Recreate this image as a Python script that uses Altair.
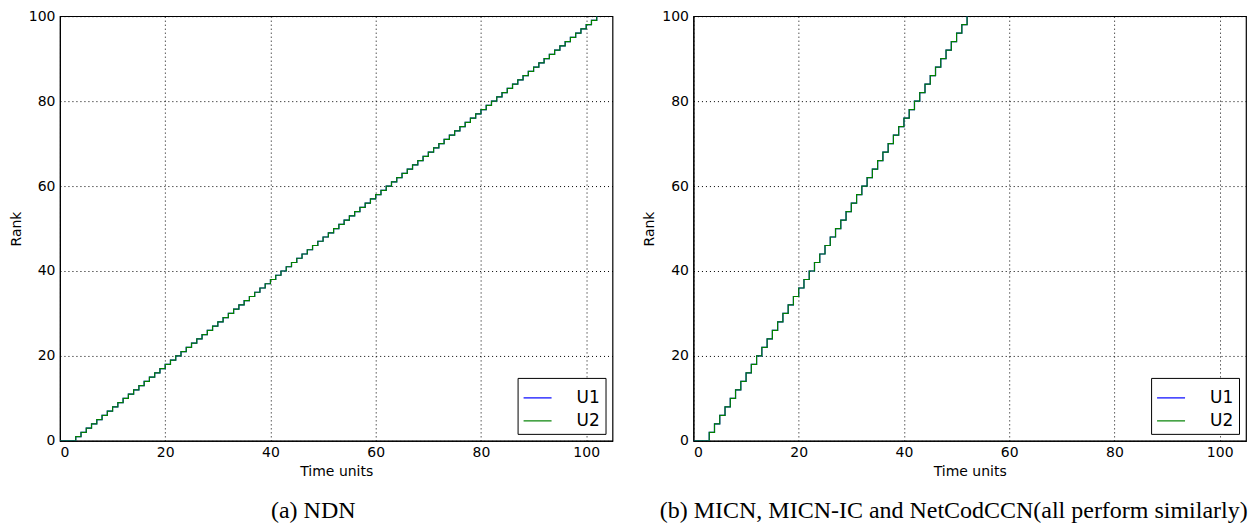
import altair as alt
import pandas as pd

# (a) NDN : time at which each rank step happens, and the rank reached
ndn_time = [0, 3, 4, 5, 6, 7, 8, 9, 10, 11, 12, 13, 14, 15, 16, 17, 18, 19, 20,
            21, 22, 23, 24, 25, 26, 27, 28, 29, 30, 31, 32, 33, 34, 35, 36, 37, 38,
            39, 40, 41, 42, 43, 44, 45, 46, 47, 48, 49, 50, 51, 52, 53, 54, 55, 56,
            57, 58, 59, 60, 61, 62, 63, 64, 65, 66, 67, 68, 69, 70, 71, 72, 73, 74,
            75, 76, 77, 78, 79, 80, 81, 82, 83, 84, 85, 86, 87, 88, 89, 90, 91, 92,
            93, 94, 95, 96, 97, 98, 99, 100, 101, 102]
ndn_rank = [0, 1, 2, 3, 4, 5, 6, 7, 8, 9, 10, 11, 12, 13, 14, 15, 16, 17, 18,
            19, 20, 21, 22, 23, 24, 25, 26, 27, 28, 29, 30, 31, 32, 33, 34, 35, 36,
            37, 38, 39, 40, 41, 42, 43, 44, 45, 46, 47, 48, 49, 50, 51, 52, 53, 54,
            55, 56, 57, 58, 59, 60, 61, 62, 63, 64, 65, 66, 67, 68, 69, 70, 71, 72,
            73, 74, 75, 76, 77, 78, 79, 80, 81, 82, 83, 84, 85, 86, 87, 88, 89, 90,
            91, 92, 93, 94, 95, 96, 97, 98, 99, 100]

# (b) MICN, MICN-IC, NetCodCCN
micn_time = [0, 3, 4, 5, 6, 7, 8, 9, 10, 11, 12, 13, 14, 15, 16, 17, 18, 19, 20,
             21, 22, 23, 24, 25, 26, 27, 28, 29, 30, 31, 32, 33, 34, 35, 36, 37, 38,
             39, 40, 41, 42, 43, 44, 45, 46, 47, 48, 49, 50, 51, 52]
micn_rank = [0, 2, 4, 6, 8, 10, 12, 14, 16, 18, 20, 22, 24, 26, 28, 30, 32, 34, 36,
             38, 40, 42, 44, 46, 48, 50, 52, 54, 56, 58, 60, 62, 64, 66, 68, 70, 72,
             74, 76, 78, 80, 82, 84, 86, 88, 90, 92, 94, 96, 98, 100]

series_names = ["U1", "U2"]
series_colors = ["#0000ff", "#008000"]
tick_values = [0, 20, 40, 60, 80, 100]

captions = ["(a) NDN", "(b) MICN, MICN-IC and NetCodCCN(all perform similarly)"]
caption_shift = [-23, -16]


def long_frame(times, ranks):
    rows = []
    for s in series_names:
        for t, r in zip(times, ranks):
            rows.append({"time": t, "rank": r, "series": s})
    return pd.DataFrame(rows)


def panel(times, ranks, caption, shift):
    df = long_frame(times, ranks)
    return alt.Chart(df).mark_line(
        interpolate="step-after", strokeWidth=1.2, clip=True
    ).encode(
        x=alt.X("time:Q", scale=alt.Scale(domain=[0, 105], nice=False, zero=False),
                axis=alt.Axis(values=tick_values, title="Time units", format="d")),
        y=alt.Y("rank:Q", scale=alt.Scale(domain=[0, 100], nice=False),
                axis=alt.Axis(values=tick_values, title="Rank", format="d")),
        color=alt.Color("series:N",
                        scale=alt.Scale(domain=series_names, range=series_colors),
                        legend=alt.Legend(title=None)),
        order=alt.Order("series:N"),
    ).properties(
        width=553, height=425,
        title=alt.TitleParams(text=caption, orient="bottom", font="Liberation Serif",
                              fontSize=24, fontWeight="normal", color="black",
                              anchor="middle", offset=20, dx=shift),
    )


chart = alt.hconcat(
    panel(ndn_time, ndn_rank, captions[0], caption_shift[0]),
    panel(micn_time, micn_rank, captions[1], caption_shift[1]),
    spacing=28,
).resolve_scale(color="independent").resolve_legend(color="independent").properties(
    padding={"left": 0, "top": 0, "right": 0, "bottom": 0}
).configure_axis(
    grid=True, gridColor="black", gridDash=[1, 3], gridOpacity=1, gridWidth=1,
    domainColor="black", domainWidth=1, ticks=False, labelPadding=5,
    labelColor="black", labelFont="DejaVu Sans", labelFontSize=14,
    titleFont="DejaVu Sans", titleFontSize=14, titleFontWeight="normal",
    titleColor="black", titlePadding=5,
).configure_view(
    stroke="black", strokeWidth=1.2
).configure_legend(
    orient="bottom-right", offset=7, strokeColor="black", fillColor="white",
    padding=5, symbolType="stroke", symbolSize=784, symbolStrokeWidth=1.2,
    labelFont="DejaVu Sans", labelFontSize=17, labelColor="black",
    labelOffset=24, rowPadding=0, cornerRadius=0,
)

chart.save("out.html", embed_options={"renderer": "svg", "actions": False})
